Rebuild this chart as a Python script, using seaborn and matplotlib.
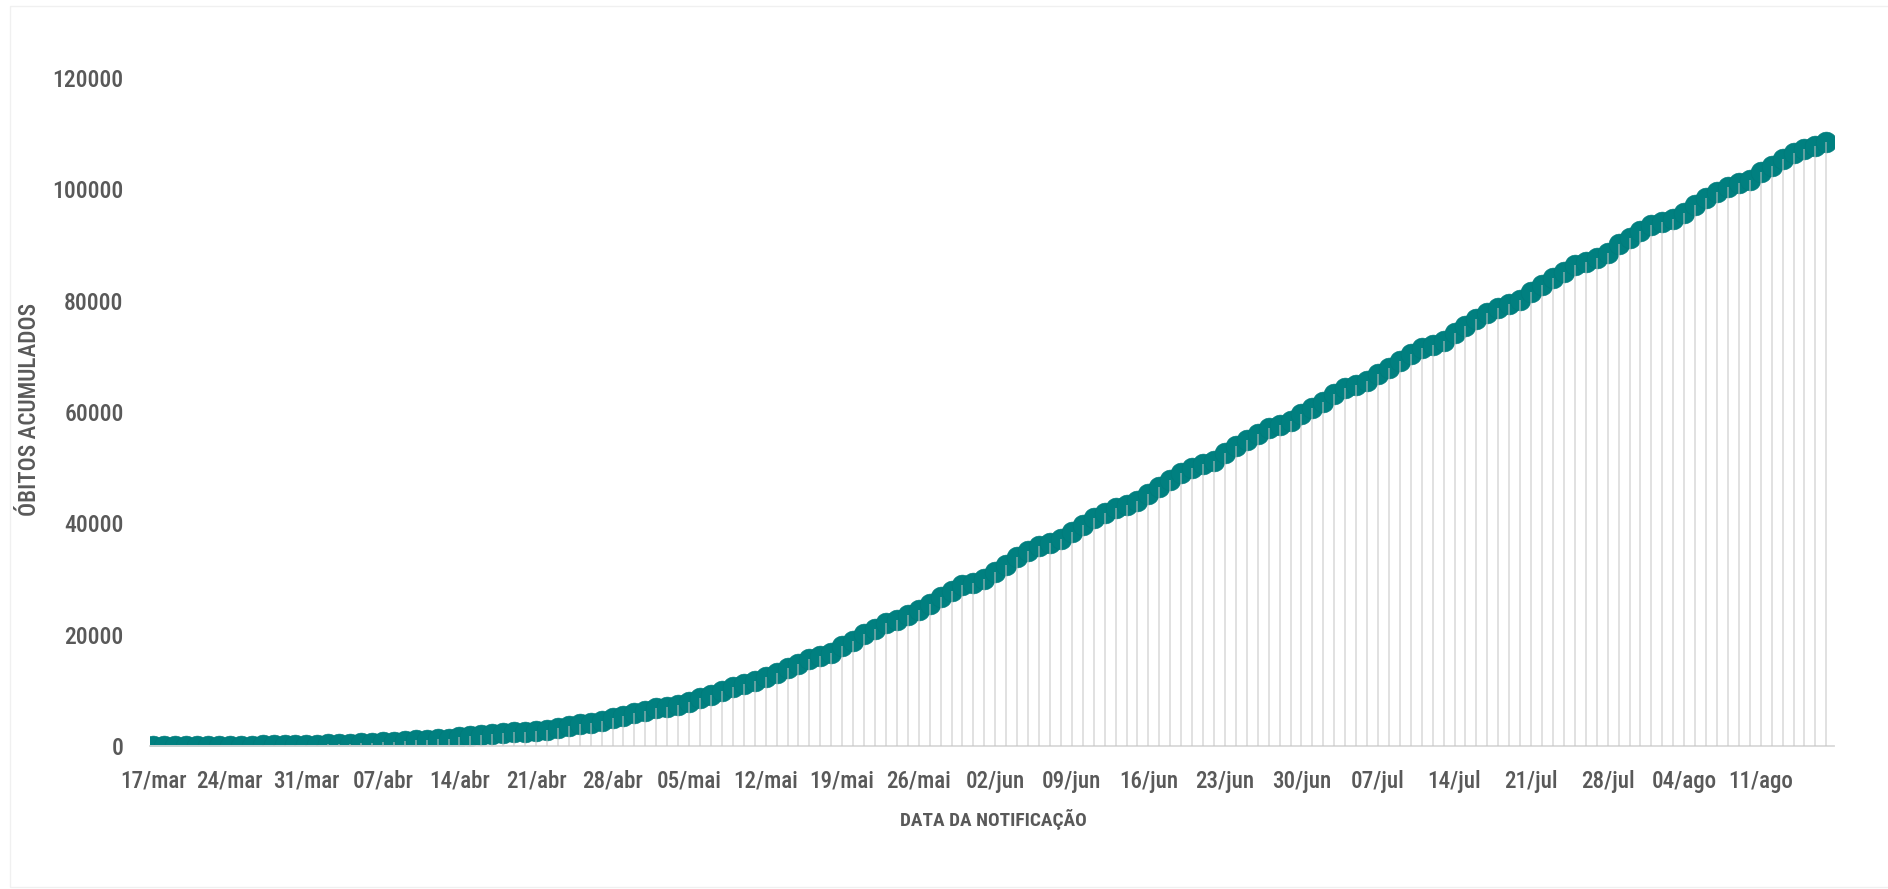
import os
import numpy as np
import pandas as pd
import matplotlib
matplotlib.use("Agg")
import matplotlib.pyplot as plt
import seaborn as sns
from matplotlib import font_manager as fm
from matplotlib.patches import Rectangle

# óbitos acumulados por dia, de 17/mar a 17/ago
obitos = [
    1, 4, 7, 11, 18, 25, 34, 46, 59, 77, 92, 111, 136, 159, 201,
    240, 324, 359, 445, 486, 553, 667, 800, 941, 1056, 1124, 1223, 1328, 1532, 1736,
    1924, 2141, 2347, 2462, 2575, 2741, 2906, 3313, 3670, 4016, 4205, 4543, 5017, 5466, 5901,
    6329, 6750, 7025, 7321, 7921, 8536, 9146, 9897, 10627, 11123, 11653, 12400, 13149, 13993, 14817,
    15633, 16118, 16792, 17971, 18859, 20047, 21048, 22013, 22666, 23473, 24512, 25598, 26754, 27878,
    28834, 29314,
    29937, 31199, 32548, 34021, 35026, 35930, 36455, 37134, 38406, 39680, 40919, 41828, 42720, 43332,
    43959, 45241, 46510, 47748, 48954, 49976, 50617, 51271, 52645, 53830, 54971, 55961, 57070, 57622,
    58314, 59594,
    60632, 61884, 63174, 64265, 64867, 65487, 66741, 67964, 69184, 70398, 71469, 72100, 72833, 74133,
    75366, 76688, 77851, 78772, 79488, 80120, 81487, 82771, 84082, 85238, 86449, 87004, 87618, 88539,
    90134, 91263, 92475,
    93563, 94104, 94665, 95819, 97256, 98493, 99572, 100477, 101049, 101752, 103026, 104201, 105463,
    106523, 107232, 107852, 108536,
]
datas = pd.date_range("2020-03-17", periods=len(obitos), freq="D")

semanas = ["17/mar", "24/mar", "31/mar", "07/abr", "14/abr", "21/abr", "28/abr", "05/mai",
           "12/mai", "19/mai", "26/mai", "02/jun", "09/jun", "16/jun", "23/jun", "30/jun",
           "07/jul", "14/jul", "21/jul", "28/jul", "04/ago", "11/ago"]
y_ticks = [0, 20000, 40000, 60000, 80000, 100000, 120000]

teal = "#008080"
cinza_txt = "#595959"
cinza_eixo = "#d9d9d9"


def fonte_estreita(peso="regular"):
    """procura uma fonte condensada instalada (o original usa uma fonte tipo DIN)"""
    ordem = ["roboto", "liberation", "dejavu", "noto", "opensans", "lato", "inter"]
    outros = ["bold", "light", "thin", "medium", "black", "semi", "extra", "heavy"]
    melhor, rank = None, 999
    for f in fm.fontManager.ttflist:
        b = os.path.basename(f.fname).lower().replace("_", "").replace("-", "")
        if "condensed" not in b and "narrow" not in b:
            continue
        if "italic" in b or "oblique" in b:
            continue
        if peso == "regular":
            if any(p in b for p in outros):
                continue
        elif peso not in b or "semi" in b or "extra" in b:
            continue
        r = next((i for i, o in enumerate(ordem) if b.startswith(o)), 50)
        if r < rank:
            melhor, rank = f.fname, r
    if melhor:
        return fm.FontProperties(fname=melhor)
    if peso == "medium":
        return fonte_estreita("regular")
    return fm.FontProperties(family=["Liberation Sans", "DejaVu Sans"],
                             weight="bold" if peso == "bold" else "normal")


fp_reg = fonte_estreita("medium")
fp_bold = fonte_estreita("bold")

df = pd.DataFrame({"data": datas, "dia": np.arange(len(obitos)), "obitos": obitos})

sns.set_style("white")
plt.rcParams["font.family"] = ["Liberation Sans", "DejaVu Sans"]

W, H = 1888, 889
fig = plt.figure(figsize=(W / 100, H / 100), dpi=100)
renderer = fig.canvas.get_renderer()


def tamanho_para(texto, fp, largura_px):
    t = fig.text(0, 0, texto, fontproperties=fp, fontsize=10)
    w = t.get_window_extent(renderer).width
    t.remove()
    return 10 * largura_px / w


sz_y = tamanho_para("120000", fp_reg, 71)
sz_x = tamanho_para("17/mar", fp_reg, 66)
sz_xl = tamanho_para("DATA DA NOTIFICAÇÃO", fp_bold, 186)
sz_yl = tamanho_para("ÓBITOS ACUMULADOS", fp_reg, 212)

ax = fig.add_axes([150 / W, 1 - 746 / H, (1834 - 150) / W, (746 - 78) / H])

sns.scatterplot(data=df, x="dia", y="obitos", s=15 ** 2, color=teal,
                edgecolor="#007a7a", linewidth=0.4, ax=ax, zorder=2, legend=False)
# linhas de queda até o eixo
ax.vlines(df["dia"], 0, df["obitos"], color="#c4c4c4", alpha=0.55, linewidth=1.3, zorder=3)

ax.set_xlim(-0.3, len(obitos) - 0.3)
ax.set_ylim(0, 120000)

ax.set_yticks(y_ticks)
ax.set_yticklabels([str(v) for v in y_ticks], fontproperties=fp_reg, fontsize=sz_y, color=cinza_txt)
ax.set_xticks(np.arange(len(semanas)) * 7)
ax.set_xticklabels(semanas, fontproperties=fp_reg, fontsize=sz_x, color=cinza_txt)
ax.set_xticks(np.arange(len(semanas) + 1) * 7 - 0.3, minor=True)

pad_x = (37 - 0.58 * sz_x * 100 / 72) * 0.72
ax.tick_params(axis="y", length=0, pad=19)
ax.tick_params(axis="x", which="major", length=0, pad=pad_x)
ax.tick_params(axis="x", which="minor", length=7, width=1.3, color=cinza_eixo)

for s in ["left", "top", "right"]:
    ax.spines[s].set_visible(False)
ax.spines["bottom"].set_color(cinza_eixo)
ax.spines["bottom"].set_linewidth(1.3)
ax.set_xlabel("")
ax.set_ylabel("")
ax.grid(False)

fig.text(993 / W, 1 - 820 / H, "DATA DA NOTIFICAÇÃO", ha="center", va="center",
         fontproperties=fp_bold, fontsize=sz_xl, color=cinza_txt)
fig.text(30 / W, 1 - 409 / H, "ÓBITOS ACUMULADOS", ha="center", va="center",
         rotation=90, fontproperties=fp_reg, fontsize=sz_yl, color=cinza_txt)

# borda suave do gráfico
fig.patches.append(Rectangle((10 / W, 2 / H), 1.1, 1 - 8 / H, transform=fig.transFigure,
                             fill=False, edgecolor="#f0f0f0", linewidth=1))

fig.savefig("out.png", dpi=100)
plt.close(fig)
